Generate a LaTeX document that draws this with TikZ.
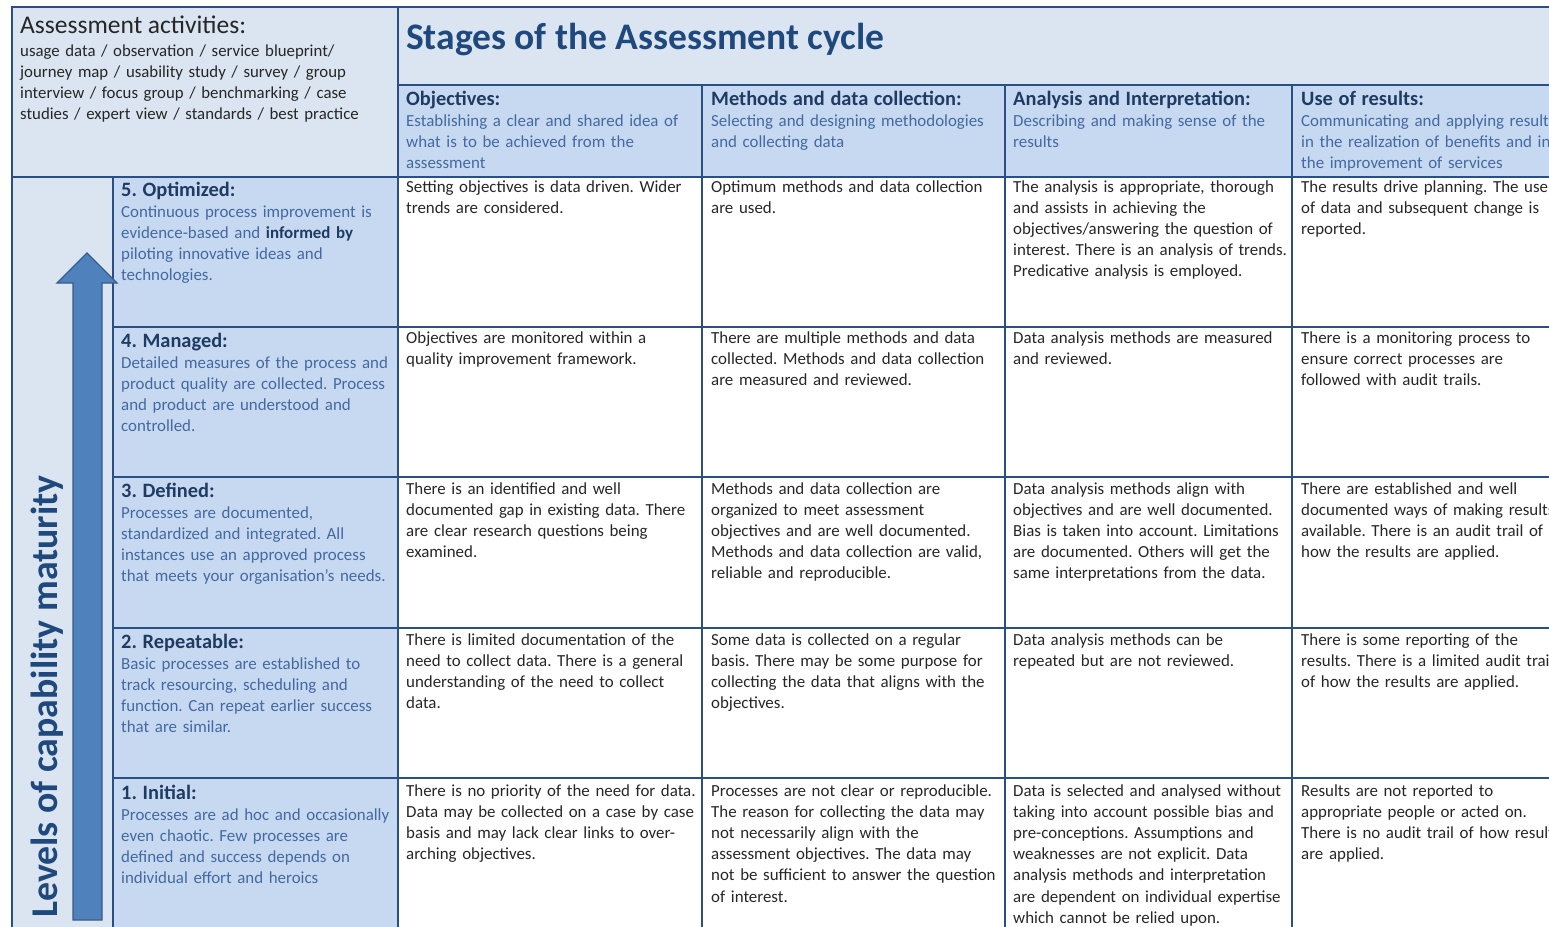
\documentclass[tikz,border=0pt]{standalone}
\usepackage{fontspec}
\setmainfont{Carlito}
\usepackage{tikz}
\usetikzlibrary{positioning}
\frenchspacing

\definecolor{frameblue}{HTML}{2A4F83}
\definecolor{paleblue}{HTML}{DBE5F1}
\definecolor{midblue}{HTML}{C6D9F1}
\definecolor{navytext}{HTML}{1F3B63}
\definecolor{softtext}{HTML}{4469A0}
\definecolor{titleblue}{HTML}{1F497D}
\definecolor{arrowfill}{HTML}{4F81BD}
\definecolor{arrowline}{HTML}{385D8A}
\definecolor{bodytext}{HTML}{262626}

\begin{document}
\begin{tikzpicture}[x=1pt,y=-1pt,
    cell/.style={anchor=base west,inner sep=0pt,text width=360pt,align=left,
      font=\fontsize{16.9}{21.2}\selectfont,text=bodytext},
    lvl/.style={cell,text=softtext,font=\fontsize{16.9}{21}\selectfont},
    stage/.style={cell,text=softtext,font=\fontsize{16.9}{21}\selectfont},
    gridline/.style={draw=frameblue,line width=2.6pt}]
    \def\hd#1{{\bfseries\color{navytext}\fontsize{20.4}{21}\selectfont #1}}
    \useasboundingbox (0,0) rectangle (1549,926);
    \clip (0,0) rectangle (1549,926);
    % background fills
    \fill[paleblue] (12,7) rectangle (1560,85);
    \fill[paleblue] (12,85) rectangle (398,177);
    \fill[midblue] (398,85) rectangle (1560,177);
    \fill[paleblue] (12,177) rectangle (113,940);
    \fill[midblue] (113,177) rectangle (398,940);

    % headers
    \node[anchor=base west,inner sep=0pt,text width=380pt,align=left,
      font=\fontsize{16.8}{21}\selectfont,text=bodytext] (acts) at (20,33)
      {{\fontsize{25.5}{24}\selectfont Assessment activities:}\\[2pt]
       usage data / observation / service blueprint/\\
       journey map / usability study / survey / group\\
       interview / focus group / benchmarking / case\\
       studies / expert view / standards / best practice};
    \node[anchor=base west,inner sep=0pt,font=\bfseries\fontsize{37.5}{40}\selectfont,
      text=titleblue] (title) at (406,49) {Stages of the Assessment cycle};
    \node[stage] (hObj) at (406,105) {\hd{Objectives:}\\
      Establishing a clear and shared idea of\\ what is to be achieved from the\\ assessment};
    \node[stage] (hMeth) at (711,105) {\hd{Methods and data collection:}\\
      Selecting and designing methodologies\\ and collecting data};
    \node[stage] (hAna) at (1013,105) {\hd{Analysis and Interpretation:}\\
      Describing and making sense of the\\ results};
    \node[stage] (hUse) at (1301,105) {\hd{Use of results:}\\
      Communicating and applying results\\ in the realization of benefits and in\\ the improvement of services};

    % levels
    \node[lvl] (lvl5) at (121,196) {\hd{5. Optimized:}\\
      Continuous process improvement is\\ evidence-based and {\bfseries\color{navytext}informed by}\\
      piloting innovative ideas and\\ technologies.};
    \node[lvl] (lvl4) at (121,347) {\hd{4. Managed:}\\
      Detailed measures of the process and\\ product quality are collected. Process\\
      and product are understood and\\ controlled.};
    \node[lvl] (lvl3) at (121,497) {\hd{3. Defined:}\\
      Processes are documented,\\ standardized and integrated. All\\
      instances use an approved process\\ that meets your organisation’s needs.};
    \node[lvl] (lvl2) at (121,648) {\hd{2. Repeatable:}\\
      Basic processes are established to\\ track resourcing, scheduling and\\
      function. Can repeat earlier success\\ that are similar.};
    \node[lvl] (lvl1) at (121,799) {\hd{1. Initial:}\\
      Processes are ad hoc and occasionally\\ even chaotic. Few processes are\\
      defined and success depends on\\ individual effort and heroics};

    % row 5
    \node[cell] (obj5) at (406,192) {Setting objectives is data driven. Wider\\ trends are considered.};
    \node[cell] (meth5) at (711,192) {Optimum methods and data collection\\ are used.};
    \node[cell] (anal5) at (1013,192) {The analysis is appropriate, thorough\\ and assists in achieving the\\
      objectives/answering the question of\\ interest. There is an analysis of trends.\\ Predicative analysis is employed.};
    \node[cell] (use5) at (1301,192) {The results drive planning. The use\\ of data and subsequent change is\\ reported.};
    % row 4
    \node[cell] (obj4) at (406,343) {Objectives are monitored within a\\ quality improvement framework.};
    \node[cell] (meth4) at (711,343) {There are multiple methods and data\\ collected. Methods and data collection\\ are measured and reviewed.};
    \node[cell] (anal4) at (1013,343) {Data analysis methods are measured\\ and reviewed.};
    \node[cell] (use4) at (1301,343) {There is a monitoring process to\\ ensure correct processes are\\ followed with audit trails.};
    % row 3
    \node[cell] (obj3) at (406,494) {There is an identified and well\\ documented gap in existing data. There\\
      are clear research questions being\\ examined.};
    \node[cell] (meth3) at (711,494) {Methods and data collection are\\ organized to meet assessment\\
      objectives and are well documented.\\ Methods and data collection are valid,\\ reliable and reproducible.};
    \node[cell] (anal3) at (1013,494) {Data analysis methods align with\\ objectives and are well documented.\\
      Bias is taken into account. Limitations\\ are documented. Others will get the\\ same interpretations from the data.};
    \node[cell] (use3) at (1301,494) {There are established and well\\ documented ways of making results\\
      available. There is an audit trail of\\ how the results are applied.};
    % row 2
    \node[cell] (obj2) at (406,645) {There is limited documentation of the\\ need to collect data. There is a general\\
      understanding of the need to collect\\ data.};
    \node[cell] (meth2) at (711,645) {Some data is collected on a regular\\ basis. There may be some purpose for\\
      collecting the data that aligns with the\\ objectives.};
    \node[cell] (anal2) at (1013,645) {Data analysis methods can be\\ repeated but are not reviewed.};
    \node[cell] (use2) at (1301,645) {There is some reporting of the\\ results. There is a limited audit trail\\ of how the results are applied.};
    % row 1
    \node[cell] (obj1) at (406,796) {There is no priority of the need for data.\\ Data may be collected on a case by case\\
      basis and may lack clear links to over-\\ arching objectives.};
    \node[cell] (meth1) at (711,796) {Processes are not clear or reproducible.\\ The reason for collecting the data may\\
      not necessarily align with the\\ assessment objectives. The data may\\
      not be sufficient to answer the question\\ of interest.};
    \node[cell] (anal1) at (1013,796) {Data is selected and analysed without\\ taking into account possible bias and\\
      pre-conceptions. Assumptions and\\ weaknesses are not explicit. Data\\
      analysis methods and interpretation\\ are dependent on individual expertise\\ which cannot be relied upon.};
    \node[cell] (use1) at (1301,796) {Results are not reported to\\ appropriate people or acted on.\\
      There is no audit trail of how results\\ are applied.};

    % grid
    \draw[gridline] (12,940) -- (12,7) -- (1560,7);
    \draw[gridline] (398,940) -- (398,7);
    \draw[gridline] (113,940) -- (113,177);
    \draw[gridline] (398,85) -- (1560,85);
    \draw[gridline] (12,177) -- (1560,177);
    \foreach \x in {702,1005,1292}
      \draw[gridline] (\x,85) -- (\x,940);
    \foreach \y in {327,477,628,778}
      \draw[gridline] (113,\y) -- (1560,\y);

    % arrow and side label
    \filldraw[fill=arrowfill,draw=arrowline,line width=1.4pt]
      (73,920) -- (73,283) -- (57,283) -- (87,253) -- (117,283) -- (102,283) -- (102,920) -- cycle;
    \node[anchor=base west,inner sep=0pt,rotate=90,font=\bfseries\fontsize{37.8}{40}\selectfont,
      text=titleblue] (levels) at (57,918) {Levels of capability maturity};
\end{tikzpicture}
\end{document}
